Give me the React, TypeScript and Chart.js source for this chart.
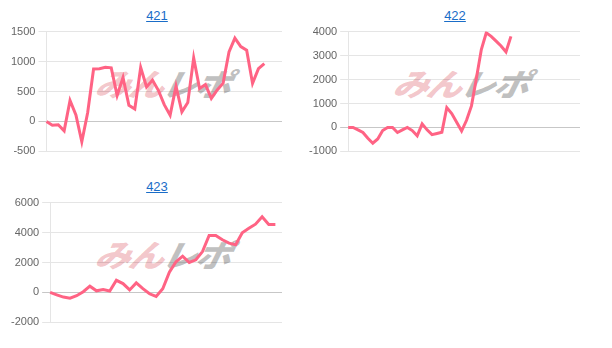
import React, { useEffect, useRef } from "react";
import { Chart, registerables } from "chart.js";

Chart.register(...registerables);

// ---- data ----
const titles = ["421", "422", "423"];

const labels421 = ["1","2","3","4","5","6","7","8","9","10","11","12","13","14","15","16","17","18","19","20","21","22","23","24","25","26","27","28","29","30","31","32","33","34","35","36","37","38","39","40","41"];
const values421 = [0, -62, -56, -157, 350, 107, -340, 150, 875, 880, 905, 895, 433, 735, 270, 208, 900, 575, 690, 520, 280, 105, 590, 160, 315, 1060, 550, 615, 385, 525, 640, 1160, 1390, 1250, 1190, 635, 880, 965];

const labels422 = ["1","2","3","4","5","6","7","8","9","10","11","12","13","14","15","16","17","18","19","20","21","22","23","24","25","26","27","28","29","30","31","32","33","34","35","36","37","38","39","40","41","42","43","44","45","46","47","48"];
const values422 = [0, 0, -100, -210, -450, -660, -480, -130, 0, 0, -210, -100, 0, -130, -350, 150, -100, -300, -250, -200, 830, 580, 220, -150, 300, 900, 2050, 3250, 3950, 3800, 3600, 3400, 3150, 3800];

const labels423 = ["1","2","3","4","5","6","7","8","9","10","11","12","13","14","15","16","17","18","19","20","21","22","23","24","25","26","27","28","29","30","31","32","33","34","35","36"];
const values423 = [0, -160, -310, -380, -220, 50, 420, 110, 190, 100, 810, 590, 170, 640, 250, -90, -270, 250, 1350, 2050, 2420, 2000, 2180, 2730, 3810, 3810, 3520, 3290, 3190, 3990, 4280, 4560, 5050, 4540, 4540];

const yMin = [-500, -1000, -2000];
const yMax = [1500, 4000, 6000];
const yStep = [500, 1000, 2000];

const watermarkPink = "みん";
const watermarkGray = "レポ";

type MiniProps = {
  title: string;
  labels: string[];
  values: number[];
  min: number;
  max: number;
  step: number;
};

function MiniChart({ title, labels, values, min, max, step }: MiniProps) {
  const ref = useRef<HTMLCanvasElement | null>(null);
  useEffect(() => {
    if (!ref.current) return;
    const chart = new Chart(ref.current, {
      type: "line",
      data: {
        labels,
        datasets: [
          {
            data: values,
            borderColor: "rgb(255, 99, 132)",
            backgroundColor: "rgb(255, 99, 132)",
            borderWidth: 3,
            pointRadius: 0,
            pointHoverRadius: 0,
            fill: false,
            tension: 0,
          },
        ],
      },
      options: {
        responsive: false,
        animation: false,
        layout: { padding: { left: 0, right: 24, top: 0, bottom: 0 } },
        plugins: { legend: { display: false }, tooltip: { enabled: false }, title: { display: false } },
        scales: {
          x: { display: false },
          y: {
            min,
            max,
            ticks: {
              stepSize: step,
              color: "#666",
              padding: 3,
              font: { family: "Arial, 'Liberation Sans', sans-serif", size: 11 },
              callback: (v: any) => String(v),
            },
            grid: {
              color: (ctx: any) => (ctx.tick && ctx.tick.value === 0 ? "rgba(0,0,0,0.22)" : "rgba(0,0,0,0.1)"),
              tickLength: 8,
            },
            border: { display: true, color: "rgba(0,0,0,0.1)" },
          },
        },
      },
    });
    return () => chart.destroy();
  }, [labels, values, min, max, step]);

  return (
    <div style={{ width: 298, height: 171 }}>
      <div style={{ height: 14, lineHeight: "16px", textAlign: "center", fontSize: 13 }}>
        <a href="#" style={{ color: "#1a6dc8" }}>{title}</a>
      </div>
      <div style={{ position: "relative", width: 298, height: 139 }}>
        <div
          style={{
            position: "absolute",
            left: 92,
            top: 44,
            fontFamily: "'Noto Sans CJK JP', sans-serif",
            fontWeight: 900,
            fontStyle: "italic",
            fontSize: 31,
            lineHeight: "34px",
            letterSpacing: "-2px",
            whiteSpace: "nowrap",
            transform: "skewX(-12deg) scaleX(1.15)",
            transformOrigin: "left top",
            zIndex: 0,
          }}
        >
          <span style={{ color: "rgba(225, 110, 120, 0.4)" }}>{watermarkPink}</span>
          <span style={{ color: "rgba(150, 150, 150, 0.6)" }}>{watermarkGray}</span>
        </div>
        <canvas ref={ref} width={298} height={139} style={{ position: "relative", zIndex: 1, display: "block" }} />
      </div>
    </div>
  );
}

export default function App() {
  return (
    <div style={{ width: 596, display: "flex", flexWrap: "wrap", fontFamily: "Arial, 'Liberation Sans', sans-serif" }}>
      <MiniChart title={titles[0]} labels={labels421} values={values421} min={yMin[0]} max={yMax[0]} step={yStep[0]} />
      <MiniChart title={titles[1]} labels={labels422} values={values422} min={yMin[1]} max={yMax[1]} step={yStep[1]} />
      <MiniChart title={titles[2]} labels={labels423} values={values423} min={yMin[2]} max={yMax[2]} step={yStep[2]} />
    </div>
  );
}
